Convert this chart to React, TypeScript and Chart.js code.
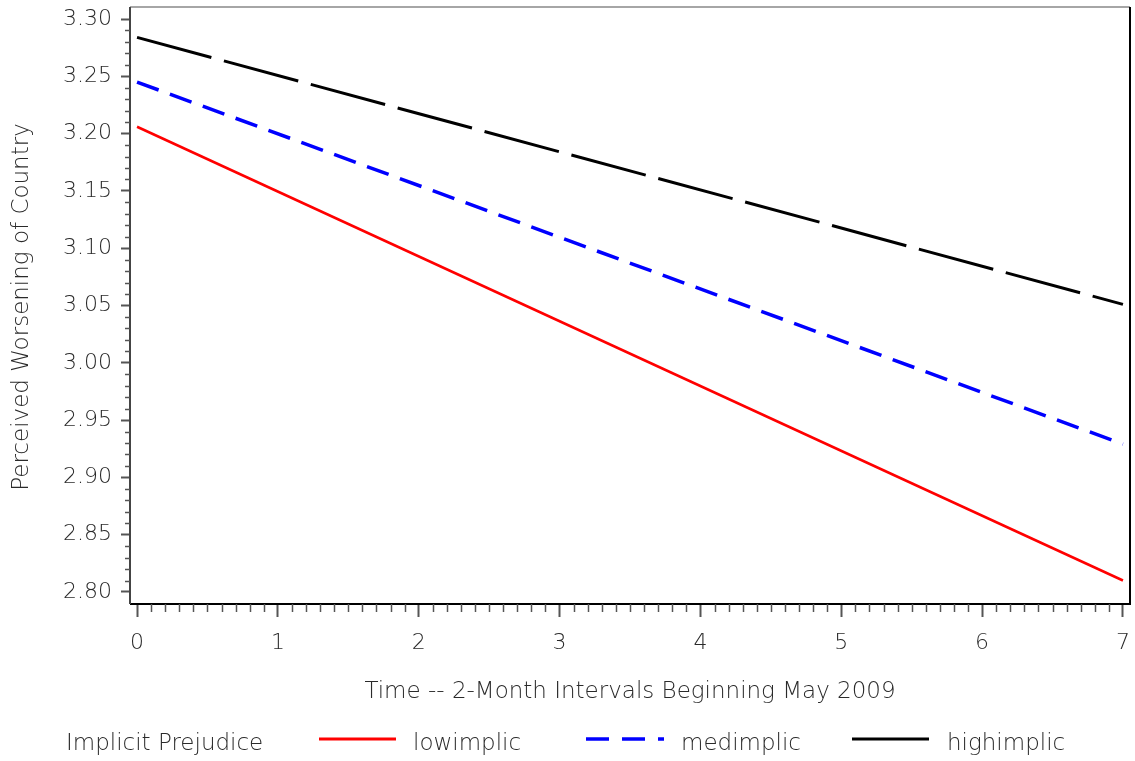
import React, { useEffect, useRef } from 'react';
import { Chart, registerables } from 'chart.js';

Chart.register(...registerables);

// ---- data ----
const timePoints = [0, 7];
const lowImplic = [3.206, 2.81];
const medImplic = [3.245, 2.929];
const highImplic = [3.284, 3.051];
const xTickValues = [0, 1, 2, 3, 4, 5, 6, 7];
const yTickValues = [2.8, 2.85, 2.9, 2.95, 3.0, 3.05, 3.1, 3.15, 3.2, 3.25, 3.3];
const seriesNames = ['lowimplic', 'medimplic', 'highimplic'];
const seriesColors = ['#ff0000', '#0000ff', '#000000'];
const legendTitle = 'Implicit Prejudice';
const xAxisTitle = 'Time -- 2-Month Intervals Beginning May 2009';
const yAxisTitle = 'Perceived Worsening of Country';

const FONT_FAMILY = "'DejaVu Sans', sans-serif";
const FONT_WEIGHT = '200';
const TICK_FONT_SIZE = 22;
const TITLE_FONT_SIZE = 23;
const TEXT_COLOR = '#2a2a2a';
const TICK_COLOR = '#555';

const zeroPad = (s: any) => {
  s.paddingTop = 0;
  s.paddingBottom = 0;
  s.paddingLeft = 0;
  s.paddingRight = 0;
};

const decor = {
  id: 'decor',
  afterDraw(chart: any) {
    const { ctx, chartArea: a, scales } = chart;
    const xs = scales.x;
    const ys = scales.y;
    ctx.save();

    // frame
    ctx.lineCap = 'butt';
    ctx.lineWidth = 1.5;
    ctx.strokeStyle = '#888';
    ctx.beginPath();
    ctx.moveTo(a.left, a.top);
    ctx.lineTo(a.right, a.top);
    ctx.stroke();
    ctx.lineWidth = 2;
    ctx.strokeStyle = '#000';
    ctx.beginPath();
    ctx.moveTo(a.right, a.top);
    ctx.lineTo(a.right, a.bottom);
    ctx.lineTo(a.left, a.bottom);
    ctx.stroke();
    ctx.strokeStyle = '#444';
    ctx.beginPath();
    ctx.moveTo(a.left, a.bottom);
    ctx.lineTo(a.left, a.top);
    ctx.stroke();

    // minor ticks
    ctx.strokeStyle = TICK_COLOR;
    ctx.lineWidth = 1.5;
    const yMin = yTickValues[0];
    for (let i = 0; i <= 50; i++) {
      if (i % 5 === 0) continue;
      const y = Math.round(ys.getPixelForValue(yMin + i * 0.01)) + 0.5;
      ctx.beginPath();
      ctx.moveTo(a.left - 5, y);
      ctx.lineTo(a.left, y);
      ctx.stroke();
    }
    for (let i = 0; i <= 70; i++) {
      if (i % 10 === 0) continue;
      const x = Math.round(xs.getPixelForValue(i / 10)) + 0.5;
      ctx.beginPath();
      ctx.moveTo(x, a.bottom);
      ctx.lineTo(x, a.bottom + 8);
      ctx.stroke();
    }

    // axis titles
    ctx.fillStyle = TEXT_COLOR;
    ctx.font = `${FONT_WEIGHT} ${TITLE_FONT_SIZE}px ${FONT_FAMILY}`;
    ctx.textAlign = 'center';
    ctx.textBaseline = 'middle';
    ctx.fillText(xAxisTitle, (a.left + a.right) / 2, 692);
    ctx.save();
    ctx.translate(22, 307);
    ctx.rotate(-Math.PI / 2);
    ctx.fillText(yAxisTitle, 0, 0);
    ctx.restore();

    // legend
    const ly = 744;
    ctx.textAlign = 'left';
    ctx.fillText(legendTitle, 66, ly);
    const samples = [
      { x0: 319, x1: 396, tx: 413, dash: [] as number[], w: 3 },
      { x0: 586, x1: 664, tx: 681, dash: [23, 13], w: 3.5 },
      { x0: 852, x1: 929, tx: 947, dash: [] as number[], w: 3 },
    ];
    samples.forEach((s, i) => {
      ctx.strokeStyle = seriesColors[i];
      ctx.lineWidth = s.w;
      ctx.setLineDash(s.dash);
      ctx.beginPath();
      ctx.moveTo(s.x0, ly - 5);
      ctx.lineTo(s.x1, ly - 5);
      ctx.stroke();
      ctx.setLineDash([]);
      ctx.fillText(seriesNames[i], s.tx, ly);
    });
    ctx.restore();
  },
};

export default function App() {
  const ref = useRef<HTMLCanvasElement>(null);
  useEffect(() => {
    const mk = (vals: number[]) => timePoints.map((x, i) => ({ x, y: vals[i] }));
    const tickFont = { family: FONT_FAMILY, size: TICK_FONT_SIZE, weight: FONT_WEIGHT };
    const chart = new Chart(ref.current as HTMLCanvasElement, {
      type: 'line',
      data: {
        datasets: [
          { label: seriesNames[0], data: mk(lowImplic), borderColor: seriesColors[0], borderWidth: 2.5, pointRadius: 0, fill: false, tension: 0 },
          { label: seriesNames[1], data: mk(medImplic), borderColor: seriesColors[1], borderWidth: 3.5, borderDash: [23, 12], pointRadius: 0, fill: false, tension: 0 },
          { label: seriesNames[2], data: mk(highImplic), borderColor: seriesColors[2], borderWidth: 3, borderDash: [77, 13], pointRadius: 0, fill: false, tension: 0 },
        ],
      },
      options: {
        responsive: false,
        animation: false,
        layout: { padding: { left: 0, top: 7, right: 5, bottom: 0 } },
        plugins: { legend: { display: false }, tooltip: { enabled: false } },
        scales: {
          x: {
            type: 'linear',
            min: -0.05,
            max: 7.05,
            afterBuildTicks: (s: any) => { s.ticks = xTickValues.map((v) => ({ value: v })); },
            afterFit: (s: any) => { s.height = 157; zeroPad(s); },
            grid: { drawOnChartArea: false, drawTicks: true, tickLength: 13, tickWidth: 2, tickColor: TICK_COLOR },
            border: { display: false },
            ticks: {
              autoSkip: false,
              maxRotation: 0,
              padding: 13,
              color: TEXT_COLOR,
              font: tickFont,
              callback: (v: any) => String(v),
            },
          },
          y: {
            type: 'linear',
            min: 2.7895,
            max: 3.3105,
            afterBuildTicks: (s: any) => { s.ticks = yTickValues.map((v) => ({ value: v })); },
            afterFit: (s: any) => { s.width = 130; zeroPad(s); },
            grid: { drawOnChartArea: false, drawTicks: true, tickLength: 9, tickWidth: 2, tickColor: TICK_COLOR },
            border: { display: false },
            ticks: {
              autoSkip: false,
              padding: 9,
              color: TEXT_COLOR,
              font: tickFont,
              callback: (v: any) => Number(v).toFixed(2),
            },
          },
        },
      },
      plugins: [decor],
    } as any);
    return () => chart.destroy();
  }, []);
  return (
    <div style={{ position: 'fixed', left: 0, top: 0, width: 1135, height: 761, background: '#fff' }}>
      <canvas ref={ref} width={1135} height={761} style={{ width: 1135, height: 761, display: 'block' }} />
    </div>
  );
}
